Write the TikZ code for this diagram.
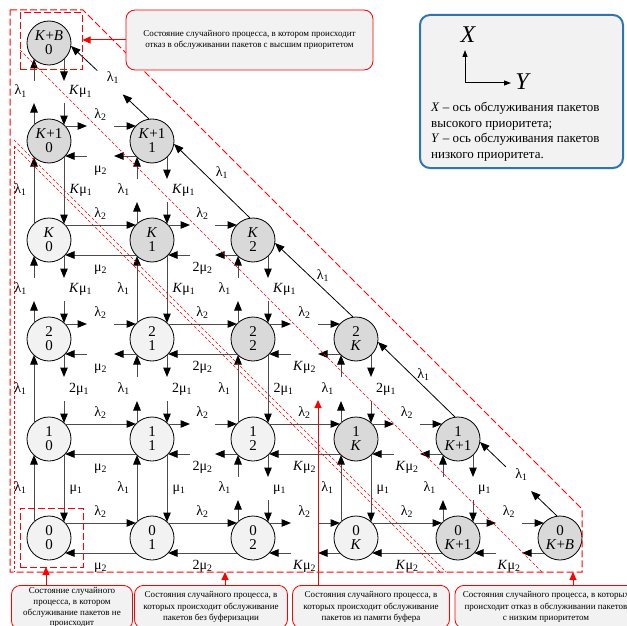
\documentclass[tikz,border=0pt]{standalone}
\usepackage{fontspec}
\setmainfont{Liberation Serif}
\usetikzlibrary{arrows.meta,calc}

\definecolor{stdark}{HTML}{D9D9D9}
\definecolor{stlight}{HTML}{F2F2F2}
\definecolor{notefill}{HTML}{F2F2F2}
\definecolor{legblue}{HTML}{2E75B6}

% rate labels
\newcommand\lam[1]{λ\textsubscript{#1}}
\newcommand\mmu[2]{#1μ\textsubscript{#2}}
\newcommand\Kit{\textit{K}}

% a transition drawn in one piece, or as two stubs with the rate in the gap
\newcommand\tfull[4]{\draw[tr] #1 -- #2 node[lbl,midway,#3]{#4};}
\newcommand\tsplit[4]{%
  \coordinate (tA) at #1; \coordinate (tB) at #2;
  \path (tA) -- (tB) node[lbl,midway,#3]{#4};
  \draw[tr] (tA) -- ($(tA)!22pt!(tB)$);
  \draw[tr] ($(tB)!22pt!(tA)$) -- (tB);}
% up / down / right / left transitions between neighbouring states
\newcommand\vup[4]{#1{($(#2)+(-15,-16)$)}{($(#3)+(-15,16)$)}{left=6pt}{#4}}
\newcommand\vdn[4]{#1{($(#2)+(15,16)$)}{($(#3)+(15,-16)$)}{right=4pt}{#4}}
\newcommand\hrt[4]{#1{($(#2)+(16,-15)$)}{($(#3)+(-16,-15)$)}{above=3pt}{#4}}
\newcommand\hlt[4]{#1{($(#2)+(-16,15)$)}{($(#3)+(16,15)$)}{below=6pt}{#4}}
% diagonal transitions (high-priority arrival pushing out a low-priority packet)
\newcommand\dfull[4]{\draw[trd] ($(#1)+(-3,-22)$) -- ($(#2)+(22,3)$)
  node[lbl,midway,xshift=#3pt,yshift=#4pt]{\lam{1}};}
\newcommand\dsplit[4]{%
  \coordinate (tA) at ($(#1)+(-3,-22)$); \coordinate (tB) at ($(#2)+(22,3)$);
  \path (tA) -- (tB) node[lbl,midway,xshift=#3pt,yshift=#4pt]{\lam{1}};
  \draw[trd] (tA) -- ($(tA)!36pt!(tB)$);
  \draw[trd] ($(tB)!36pt!(tA)$) -- (tB);}

\begin{document}
\begin{tikzpicture}[x=1pt,y=-1pt,
  st/.style={circle,draw=black,line width=0.8pt,minimum size=44pt,inner sep=0pt,
    align=center,font=\fontsize{15}{14}\selectfont},
  dk/.style={st,fill=stdark},
  lt/.style={st,fill=stlight},
  lbl/.style={font=\fontsize{14}{14}\selectfont,inner sep=1pt,text height=9pt,text depth=3pt},
  tr/.style={line width=1pt,draw=black!70,-{Triangle[length=9.5pt,width=7.5pt,color=black]}},
  trd/.style={line width=0.8pt,draw=black,-{Triangle[length=9.5pt,width=7.5pt]}},
  redthick/.style={draw=red,line width=1pt,dash pattern=on 7pt off 3pt},
  redthin/.style={draw=red,line width=0.6pt,dash pattern=on 3pt off 2pt},
  regbox/.style={redthick,inner sep=0pt},
  note/.style={draw=red,line width=0.8pt,fill=notefill,rounded corners=9pt,align=center,
    font=\fontsize{9}{11.5}\selectfont,inner xsep=2pt},
  rarr/.style={draw=red,line width=1pt,-{Triangle[length=8pt,width=7pt]}},
  axarr/.style={draw=black,line width=1pt,-{Triangle[length=7pt,width=5pt]}}
]
\useasboundingbox (0,0) rectangle (627,626);
\fill[white] (0,0) rectangle (627,626);

% states (high-priority count over low-priority count)
\node[dk] (nKB0) at (49,43) {\Kit+\textit{B}\\0};
\node[dk] (nK10) at (49,141) {\Kit+1\\0};
\node[dk] (nK11) at (152,141) {\Kit+1\\1};
\node[lt] (nK0) at (49,240) {\Kit\\0};
\node[dk] (nK1) at (152,240) {\Kit\\1};
\node[dk] (nK2) at (253,240) {\Kit\\2};
\node[lt] (n20) at (49,339) {2\\0};
\node[lt] (n21) at (152,339) {2\\1};
\node[dk] (n22) at (253,339) {2\\2};
\node[dk] (n2K) at (356,339) {2\\\Kit};
\node[lt] (n10) at (49,439) {1\\0};
\node[lt] (n11) at (152,439) {1\\1};
\node[lt] (n12) at (253,439) {1\\2};
\node[dk] (n1K) at (356,439) {1\\\Kit};
\node[dk] (n1K1) at (458,439) {1\\\Kit+1};
\node[lt] (n00) at (49,538) {0\\0};
\node[lt] (n01) at (152,538) {0\\1};
\node[lt] (n02) at (253,538) {0\\2};
\node[lt] (n0K) at (356,538) {0\\\Kit};
\node[dk] (n0K1) at (458,538) {0\\\Kit+1};
\node[dk] (n0KB) at (560,538) {0\\\Kit+\textit{B}};

% column 0
\vup\tfull{n00}{n10}{\lam{1}}
\vdn\tfull{n10}{n00}{\mmu{}{1}}
\vup\tfull{n10}{n20}{\lam{1}}
\vdn\tsplit{n20}{n10}{\mmu{2}{1}}
\vup\tsplit{n20}{nK0}{\lam{1}}
\vdn\tsplit{nK0}{n20}{\mmu{\Kit}{1}}
\vup\tfull{nK0}{nK10}{\lam{1}}
\vdn\tfull{nK10}{nK0}{\mmu{\Kit}{1}}
\vup\tsplit{nK10}{nKB0}{\lam{1}}
\vdn\tsplit{nKB0}{nK10}{\mmu{\Kit}{1}}
% column 1
\vup\tfull{n01}{n11}{\lam{1}}
\vdn\tfull{n11}{n01}{\mmu{}{1}}
\vup\tsplit{n11}{n21}{\lam{1}}
\vdn\tsplit{n21}{n11}{\mmu{2}{1}}
\vup\tfull{n21}{nK1}{\lam{1}}
\vdn\tfull{nK1}{n21}{\mmu{\Kit}{1}}
\vup\tsplit{nK1}{nK11}{\lam{1}}
\vdn\tsplit{nK11}{nK1}{\mmu{\Kit}{1}}
% column 2
\vup\tsplit{n02}{n12}{\lam{1}}
\vdn\tsplit{n12}{n02}{\mmu{}{1}}
\vup\tfull{n12}{n22}{\lam{1}}
\vdn\tfull{n22}{n12}{\mmu{2}{1}}
\vup\tsplit{n22}{nK2}{\lam{1}}
\vdn\tsplit{nK2}{n22}{\mmu{\Kit}{1}}
% column K
\vup\tfull{n0K}{n1K}{\lam{1}}
\vdn\tfull{n1K}{n0K}{\mmu{}{1}}
\vup\tsplit{n1K}{n2K}{\lam{1}}
\vdn\tsplit{n2K}{n1K}{\mmu{2}{1}}
% column K+1
\vup\tsplit{n0K1}{n1K1}{\lam{1}}
\vdn\tsplit{n1K1}{n0K1}{\mmu{}{1}}

% row K+1
\hrt\tsplit{nK10}{nK11}{\lam{2}}
\hlt\tsplit{nK11}{nK10}{\mmu{}{2}}
% row K
\hrt\tfull{nK0}{nK1}{\lam{2}}
\hlt\tfull{nK1}{nK0}{\mmu{}{2}}
\hrt\tsplit{nK1}{nK2}{\lam{2}}
\hlt\tsplit{nK2}{nK1}{\mmu{2}{2}}
% row 2
\hrt\tsplit{n20}{n21}{\lam{2}}
\hlt\tsplit{n21}{n20}{\mmu{}{2}}
\hrt\tfull{n21}{n22}{\lam{2}}
\hlt\tfull{n22}{n21}{\mmu{2}{2}}
\hrt\tsplit{n22}{n2K}{\lam{2}}
\hlt\tsplit{n2K}{n22}{\mmu{\Kit}{2}}
% row 1
\hrt\tfull{n10}{n11}{\lam{2}}
\hlt\tfull{n11}{n10}{\mmu{}{2}}
\hrt\tsplit{n11}{n12}{\lam{2}}
\hlt\tsplit{n12}{n11}{\mmu{2}{2}}
\hrt\tfull{n12}{n1K}{\lam{2}}
\hlt\tfull{n1K}{n12}{\mmu{\Kit}{2}}
\hrt\tsplit{n1K}{n1K1}{\lam{2}}
\hlt\tsplit{n1K1}{n1K}{\mmu{\Kit}{2}}
% row 0
\hrt\tfull{n00}{n01}{\lam{2}}
\hlt\tfull{n01}{n00}{\mmu{}{2}}
\hrt\tfull{n01}{n02}{\lam{2}}
\hlt\tfull{n02}{n01}{\mmu{2}{2}}
\hrt\tsplit{n02}{n0K}{\lam{2}}
\hlt\tsplit{n0K}{n02}{\mmu{\Kit}{2}}
\hrt\tfull{n0K}{n0K1}{\lam{2}}
\hlt\tfull{n0K1}{n0K}{\mmu{\Kit}{2}}
\hrt\tsplit{n0K1}{n0KB}{\lam{2}}
\hlt\tsplit{n0KB}{n0K1}{\mmu{\Kit}{2}}

% diagonals
\dsplit{nK11}{nKB0}{3}{4}
\dfull{nK2}{nK11}{10}{8}
\dfull{n2K}{nK2}{9}{4}
\dfull{n1K1}{n2K}{7}{4}
\dsplit{n0KB}{n1K1}{3}{4}

% state regions
\draw[redthick] (10,10) -- (83,10) -- (582,509) -- (582,572) -- (10,572) -- cycle;
\draw[redthin] (20,50) -- (542,572);
\draw[redthin] (14,140) -- (446,572);
\draw[redthin] (14,146) -- (440,572);
\draw[redthin] (14,146) -- (14,572);
\node[regbox,minimum width=62pt,minimum height=57pt] (boxKB) at (51,41.5) {};
\node[regbox,minimum width=63pt,minimum height=59pt] (box00) at (51.5,537.5) {};

% notes
\node[note,minimum width=247pt,minimum height=60pt] (ntop) at (249.5,40)
  {Состояние случайного процесса, в котором происходит\\отказ в обслуживании пакетов с высшим приоритетом};
\node[note,anchor=north,minimum width=121pt,inner ysep=2pt,font=\fontsize{9}{10.8}\selectfont] (nb1) at (72,585)
  {Состояние случайного\\процесса, в котором\\обслуживание пакетов не\\происходит};
\node[note,anchor=north,minimum width=153pt,inner ysep=6pt] (nb2) at (211,585)
  {Состояния случайного процесса, в\\которых происходит обслуживание\\пакетов без буферизации};
\node[note,anchor=north,minimum width=157pt,inner ysep=6pt] (nb3) at (371,585)
  {Состояния случайного процесса, в\\которых происходит обслуживание\\пакетов из памяти буфера};
\node[note,anchor=north,minimum width=182pt,inner ysep=6pt] (nb4) at (546,585)
  {Состояния случайного процесса, в которых\\происходит отказ в обслуживании пакетов\\с низким приоритетом};

\coordinate (t1) at (46,567);
\coordinate (t2) at (225,572);
\coordinate (t3) at (318,400);
\coordinate (t4) at (573,572);
\draw[rarr] (ntop.west) -- (ntop.west -| boxKB.east);
\draw[rarr] (nb1.north -| t1) -- (t1);
\draw[rarr] (nb2.north -| t2) -- (t2);
\draw[rarr] (nb3.north -| t3) -- (t3);
\draw[rarr] (nb4.north -| t4) -- (t4);

% axes legend
\node[draw=legblue,line width=2pt,fill=notefill,rounded corners=10pt,
  minimum width=203pt,minimum height=153pt] (leg) at (521.5,91.5) {};
\coordinate (ax0) at (465,83);
\coordinate (axX) at (465,50);
\coordinate (axY) at (511,83);
\draw[axarr] (ax0) -- (axX);
\draw[axarr] (ax0) -- (axY);
\node[font=\fontsize{24}{24}\selectfont\itshape] (lX) at (468,35) {X};
\node[font=\fontsize{24}{24}\selectfont\itshape] (lY) at (522,82) {Y};
\node[anchor=north west,align=left,inner sep=0pt,font=\fontsize{13}{15.5}\selectfont] (legtxt) at (431,102)
  {\textit{X} – ось обслуживания пакетов\\высокого приоритета;\\\textit{Y} – ось обслуживания пакетов\\низкого приоритета.};
\end{tikzpicture}
\end{document}
